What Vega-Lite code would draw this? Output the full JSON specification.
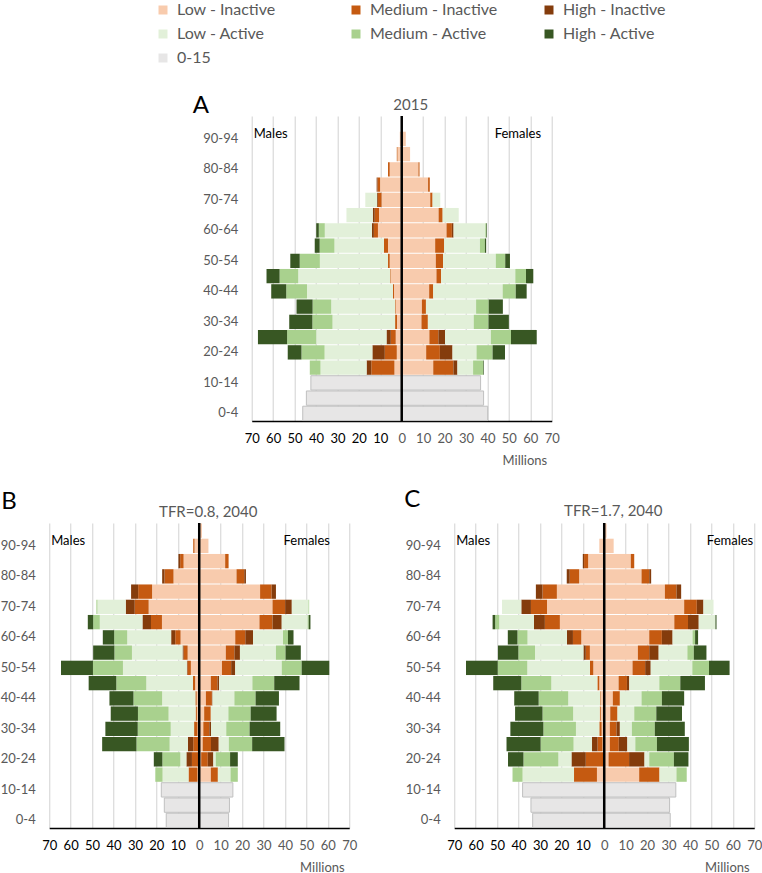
{
  "$schema": "https://vega.github.io/schema/vega-lite/v6.json",
  "padding": {"left": 0, "top": 2, "right": 5, "bottom": 5},
  "datasets": {
    "pop": [
      {"p":"A","a":"95-99","s":"M","LI":0.2},
      {"p":"A","a":"90-94","s":"M","LI":0.9},
      {"p":"A","a":"85-89","s":"M","LI":2.0,"MI":0.3},
      {"p":"A","a":"80-84","s":"M","LI":5.6,"MI":0.8},
      {"p":"A","a":"75-79","s":"M","LI":10.1,"MI":1.2,"HI":0.4},
      {"p":"A","a":"70-74","s":"M","LI":9.4,"MI":1.7,"HI":0.4,"LA":5.5},
      {"p":"A","a":"65-69","s":"M","LI":10.6,"MI":2.0,"HI":0.9,"LA":12.3},
      {"p":"A","a":"60-64","s":"M","LI":11.1,"MI":1.9,"HI":0.9,"LA":22.0,"MA":2.8,"HA":1.2},
      {"p":"A","a":"55-59","s":"M","LI":6.4,"MI":1.9,"LA":23.1,"MA":6.9,"HA":2.3},
      {"p":"A","a":"50-54","s":"M","LI":5.6,"MI":0.8,"LA":31.8,"MA":9.4,"HA":4.4},
      {"p":"A","a":"45-49","s":"M","LI":5.1,"MI":0.3,"LA":42.9,"MA":8.7,"HA":6.1},
      {"p":"A","a":"40-44","s":"M","LI":3.6,"MI":0.5,"LA":40.1,"MA":9.7,"HA":7.0},
      {"p":"A","a":"35-39","s":"M","LI":2.8,"MI":0.3,"LA":29.8,"MA":8.7,"HA":7.5},
      {"p":"A","a":"30-34","s":"M","LI":2.2,"MI":0.9,"LA":29.2,"MA":9.4,"HA":10.8},
      {"p":"A","a":"25-29","s":"M","LI":2.8,"MI":2.3,"HI":2.0,"LA":32.8,"MA":13.6,"HA":13.6},
      {"p":"A","a":"20-24","s":"M","LI":2.3,"MI":5.6,"HI":5.8,"LA":22.3,"MA":10.8,"HA":6.4},
      {"p":"A","a":"15-19","s":"M","LI":3.4,"MI":10.8,"HI":2.2,"LA":21.5,"MA":5.0},
      {"p":"A","a":"10-14","s":"M","K":42.4},
      {"p":"A","a":"5-9","s":"M","K":44.5},
      {"p":"A","a":"0-4","s":"M","K":46.2},
      {"p":"A","a":"95-99","s":"F","LI":0.3},
      {"p":"A","a":"90-94","s":"F","LI":1.9},
      {"p":"A","a":"85-89","s":"F","LI":3.9},
      {"p":"A","a":"80-84","s":"F","LI":7.8,"MI":0.5},
      {"p":"A","a":"75-79","s":"F","LI":12.3,"MI":0.8},
      {"p":"A","a":"70-74","s":"F","LI":13.3,"MI":1.1,"LA":3.6},
      {"p":"A","a":"65-69","s":"F","LI":17.2,"MI":1.9,"LA":7.5},
      {"p":"A","a":"60-64","s":"F","LI":20.9,"MI":2.5,"HI":0.8,"LA":14.8,"MA":0.5,"HA":0.3},
      {"p":"A","a":"55-59","s":"F","LI":15.6,"MI":4.2,"LA":16.7,"MA":2.3,"HA":0.6},
      {"p":"A","a":"50-54","s":"F","LI":15.9,"MI":3.4,"LA":24.6,"MA":4.4,"HA":2.2},
      {"p":"A","a":"45-49","s":"F","LI":16.2,"MI":2.2,"LA":34.6,"MA":5.0,"HA":3.4},
      {"p":"A","a":"40-44","s":"F","LI":12.8,"MI":1.9,"LA":32.4,"MA":6.1,"HA":5.1},
      {"p":"A","a":"35-39","s":"F","LI":9.4,"MI":1.9,"LA":23.4,"MA":5.9,"HA":6.6},
      {"p":"A","a":"30-34","s":"F","LI":9.2,"MI":3.0,"LA":21.4,"MA":6.9,"HA":9.5},
      {"p":"A","a":"25-29","s":"F","LI":12.9,"MI":4.2,"HI":3.1,"LA":21.4,"MA":9.4,"HA":12.0},
      {"p":"A","a":"20-24","s":"F","LI":11.4,"MI":6.4,"HI":5.9,"LA":11.2,"MA":7.5,"HA":5.8},
      {"p":"A","a":"15-19","s":"F","LI":14.7,"MI":9.4,"HI":1.9,"LA":7.3,"MA":4.7,"HA":0.3},
      {"p":"A","a":"10-14","s":"F","K":36.8},
      {"p":"A","a":"5-9","s":"F","K":38.2},
      {"p":"A","a":"0-4","s":"F","K":40.1},

      {"p":"B","a":"95-99","s":"M","LI":0.3},
      {"p":"B","a":"90-94","s":"M","LI":2.2,"MI":0.6},
      {"p":"B","a":"85-89","s":"M","LI":7.3,"MI":1.6,"HI":0.8},
      {"p":"B","a":"80-84","s":"M","LI":12.0,"MI":4.2,"HI":1.1},
      {"p":"B","a":"75-79","s":"M","LI":22.0,"MI":6.5,"HI":3.3},
      {"p":"B","a":"70-74","s":"M","LI":23.6,"MI":6.5,"HI":4.2,"LA":13.2,"MA":0.5},
      {"p":"B","a":"65-69","s":"M","LI":17.4,"MI":5.1,"HI":4.0,"LA":19.9,"MA":3.1,"HA":2.5},
      {"p":"B","a":"60-64","s":"M","LI":8.7,"MI":2.5,"HI":1.9,"LA":20.5,"MA":6.1,"HA":5.3},
      {"p":"B","a":"55-59","s":"M","LI":5.4,"MI":1.9,"HI":0.5,"LA":23.6,"MA":8.2,"HA":9.9},
      {"p":"B","a":"50-54","s":"M","LI":3.9,"MI":1.6,"HI":0.3,"LA":29.8,"MA":14.0,"HA":14.9},
      {"p":"B","a":"45-49","s":"M","LI":1.9,"MI":1.1,"LA":21.7,"MA":14.0,"HA":12.9},
      {"p":"B","a":"40-44","s":"M","LI":1.2,"MI":0.6,"LA":15.5,"MA":13.4,"HA":11.2},
      {"p":"B","a":"35-39","s":"M","LI":1.1,"MI":0.6,"LA":12.6,"MA":14.3,"HA":12.7},
      {"p":"B","a":"30-34","s":"M","LI":0.8,"MI":1.6,"LA":10.9,"MA":15.4,"HA":15.1},
      {"p":"B","a":"25-29","s":"M","LI":0.5,"MI":2.3,"HI":2.5,"LA":8.5,"MA":15.5,"HA":16.0},
      {"p":"B","a":"20-24","s":"M","LI":0.3,"MI":3.1,"HI":2.6,"LA":2.8,"MA":8.4,"HA":4.0},
      {"p":"B","a":"15-19","s":"M","LI":0.8,"MI":4.2,"LA":12.1,"MA":3.4},
      {"p":"B","a":"10-14","s":"M","K":17.7},
      {"p":"B","a":"5-9","s":"M","K":16.3},
      {"p":"B","a":"0-4","s":"M","K":15.4},
      {"p":"B","a":"95-99","s":"F","LI":1.3},
      {"p":"B","a":"90-94","s":"F","LI":4.3},
      {"p":"B","a":"85-89","s":"F","LI":12.1,"MI":1.6},
      {"p":"B","a":"80-84","s":"F","LI":17.4,"MI":3.6,"HI":0.8},
      {"p":"B","a":"75-79","s":"F","LI":28.4,"MI":5.4,"HI":2.0},
      {"p":"B","a":"70-74","s":"F","LI":34.2,"MI":5.9,"HI":3.1,"LA":7.8,"MA":0.3},
      {"p":"B","a":"65-69","s":"F","LI":28.1,"MI":6.1,"HI":4.3,"LA":12.1,"MA":0.5,"HA":0.8},
      {"p":"B","a":"60-64","s":"F","LI":16.8,"MI":4.7,"HI":3.6,"LA":14.0,"MA":2.3,"HA":2.6},
      {"p":"B","a":"55-59","s":"F","LI":12.4,"MI":4.0,"HI":2.6,"LA":16.8,"MA":4.5,"HA":7.1},
      {"p":"B","a":"50-54","s":"F","LI":10.6,"MI":4.3,"HI":1.9,"LA":21.7,"MA":9.3,"HA":12.9},
      {"p":"B","a":"45-49","s":"F","LI":5.4,"MI":3.1,"HI":0.8,"LA":15.5,"MA":10.2,"HA":11.8},
      {"p":"B","a":"40-44","s":"F","LI":3.1,"MI":2.8,"HI":0.3,"LA":10.2,"MA":9.9,"HA":10.9},
      {"p":"B","a":"35-39","s":"F","LI":2.3,"MI":3.1,"LA":8.2,"MA":10.4,"HA":12.1},
      {"p":"B","a":"30-34","s":"F","LI":1.9,"MI":2.8,"HI":0.8,"LA":7.1,"MA":10.9,"HA":14.3},
      {"p":"B","a":"25-29","s":"F","LI":1.6,"MI":3.9,"HI":3.6,"LA":4.7,"MA":10.9,"HA":15.1},
      {"p":"B","a":"20-24","s":"F","LI":0.9,"MI":3.1,"HI":2.6,"LA":1.1,"MA":6.7,"HA":3.6},
      {"p":"B","a":"15-19","s":"F","LI":5.4,"MI":3.3,"LA":5.9,"MA":3.4},
      {"p":"B","a":"10-14","s":"F","K":15.7},
      {"p":"B","a":"5-9","s":"F","K":14.1},
      {"p":"B","a":"0-4","s":"F","K":13.7},

      {"p":"C","a":"95-99","s":"M","LI":0.3},
      {"p":"C","a":"90-94","s":"M","LI":2.3},
      {"p":"C","a":"85-89","s":"M","LI":7.5,"MI":1.9,"HI":0.6},
      {"p":"C","a":"80-84","s":"M","LI":11.7,"MI":4.4,"HI":1.4},
      {"p":"C","a":"75-79","s":"M","LI":22.1,"MI":6.7,"HI":3.1},
      {"p":"C","a":"70-74","s":"M","LI":26.7,"MI":7.5,"HI":4.5,"LA":9.0},
      {"p":"C","a":"65-69","s":"M","LI":20.7,"MI":7.0,"HI":5.1,"LA":16.2,"MA":1.9,"HA":1.2},
      {"p":"C","a":"60-64","s":"M","LI":10.7,"MI":3.9,"HI":2.8,"LA":18.4,"MA":4.7,"HA":4.5},
      {"p":"C","a":"55-59","s":"M","LI":6.7,"MI":1.9,"HI":1.1,"LA":22.6,"MA":7.8,"HA":9.5},
      {"p":"C","a":"50-54","s":"M","LI":5.1,"MI":1.6,"LA":29.2,"MA":13.8,"HA":14.8},
      {"p":"C","a":"45-49","s":"M","LI":2.3,"MI":0.9,"LA":21.5,"MA":14.0,"HA":13.1},
      {"p":"C","a":"40-44","s":"M","LI":1.6,"MI":0.3,"LA":14.9,"MA":13.8,"HA":11.4},
      {"p":"C","a":"35-39","s":"M","LI":1.6,"MI":0.5,"LA":12.4,"MA":14.3,"HA":12.8},
      {"p":"C","a":"30-34","s":"M","LI":1.2,"MI":1.1,"LA":10.9,"MA":15.2,"HA":15.4},
      {"p":"C","a":"25-29","s":"M","LI":0.8,"MI":2.3,"HI":2.6,"LA":8.6,"MA":15.4,"HA":15.9},
      {"p":"C","a":"20-24","s":"M","LI":0.5,"MI":8.1,"HI":6.7,"LA":6.1,"MA":16.3,"HA":7.2},
      {"p":"C","a":"15-19","s":"M","LI":3.4,"MI":10.7,"LA":24.0,"MA":4.7},
      {"p":"C","a":"10-14","s":"M","K":38.1},
      {"p":"C","a":"5-9","s":"M","K":34.2},
      {"p":"C","a":"0-4","s":"M","K":33.4},
      {"p":"C","a":"95-99","s":"F","LI":1.1},
      {"p":"C","a":"90-94","s":"F","LI":4.4},
      {"p":"C","a":"85-89","s":"F","LI":12.4,"MI":1.6},
      {"p":"C","a":"80-84","s":"F","LI":17.4,"MI":3.6,"HI":0.9},
      {"p":"C","a":"75-79","s":"F","LI":28.3,"MI":5.4,"HI":2.2},
      {"p":"C","a":"70-74","s":"F","LI":37.3,"MI":5.9,"HI":3.1,"LA":4.7},
      {"p":"C","a":"65-69","s":"F","LI":32.7,"MI":6.4,"HI":5.0,"LA":7.8,"HA":0.5},
      {"p":"C","a":"60-64","s":"F","LI":21.0,"MI":5.9,"HI":5.0,"LA":9.3,"MA":1.2,"HA":1.4},
      {"p":"C","a":"55-59","s":"F","LI":15.7,"MI":5.3,"HI":4.4,"LA":13.4,"MA":3.0,"HA":5.9},
      {"p":"C","a":"50-54","s":"F","LI":13.2,"MI":5.9,"HI":2.6,"LA":19.4,"MA":7.8,"HA":9.6},
      {"p":"C","a":"45-49","s":"F","LI":6.7,"MI":3.9,"HI":1.1,"LA":14.0,"MA":9.8,"HA":11.5},
      {"p":"C","a":"40-44","s":"F","LI":4.0,"MI":3.3,"LA":10.1,"MA":9.5,"HA":10.4},
      {"p":"C","a":"35-39","s":"F","LI":2.8,"MI":3.4,"LA":7.8,"MA":10.3,"HA":12.0},
      {"p":"C","a":"30-34","s":"F","LI":2.6,"MI":3.1,"HI":1.6,"LA":5.6,"MA":10.7,"HA":14.0},
      {"p":"C","a":"25-29","s":"F","LI":2.6,"MI":4.2,"HI":4.0,"LA":3.7,"MA":10.1,"HA":14.9},
      {"p":"C","a":"20-24","s":"F","LI":2.0,"MI":9.6,"HI":7.2,"LA":2.2,"MA":11.5,"HA":6.8},
      {"p":"C","a":"15-19","s":"F","LI":16.3,"MI":9.5,"LA":7.9,"MA":4.8},
      {"p":"C","a":"10-14","s":"F","K":33.4},
      {"p":"C","a":"5-9","s":"F","K":30.5},
      {"p":"C","a":"0-4","s":"F","K":30.8}
    ]
  },
  "spacing": 21,
  "center": true,
  "vconcat": [
    {
      "width": 300,
      "height": 305,
      "layer": [
        {
          "data": {"name": "pop"},
          "transform": [
            {"filter": "datum.p == 'A'"},
            {"fold": ["LI","MI","HI","LA","MA","HA","K"], "as": ["c","v"]},
            {"filter": "datum.v > 0"},
            {"calculate": "datum.s == 'M' ? -datum.v : datum.v", "as": "x"},
            {"calculate": "indexof(['LI','MI','HI','LA','MA','HA','K'], datum.c)", "as": "o"}
          ],
          "mark": {"type": "bar", "stroke": "#C0C0C0"},
          "encoding": {
            "y": {"field": "a", "type": "ordinal",
              "scale": {"domain": ["95-99","90-94","85-89","80-84","75-79","70-74","65-69","60-64","55-59","50-54","45-49","40-44","35-39","30-34","25-29","20-24","15-19","10-14","5-9","0-4"], "paddingInner": 0.06, "paddingOuter": 0.03},
              "axis": {"values": ["90-94","80-84","70-74","60-64","50-54","40-44","30-34","20-24","10-14","0-4"], "title": null}},
            "x": {"field": "x", "type": "quantitative", "stack": "zero", "scale": {"domain": [-70, 70]},
              "axis": {"values": [-70,-60,-50,-40,-30,-20,-10,0,10,20,30,40,50,60,70], "tickCount": 15, "labelOverlap": false, "title": "Millions", "titleX": 295, "titleY": 39}},
            "color": {"field": "c", "type": "nominal",
              "scale": {"domain": ["LI","MI","HI","LA","MA","HA","K"], "range": ["#F8CBAD","#C55A11","#843C0C","#E2F0D9","#A9D18E","#385723","#E7E6E6"]},
              "legend": {"orient": "none", "legendX": 106, "legendY": -114, "direction": "horizontal", "columns": 3, "title": null,
                "labelExpr": "['Low - Inactive','Medium - Inactive','High - Inactive','Low - Active','Medium - Active','High - Active','0-15'][indexof(['LI','MI','HI','LA','MA','HA','K'], datum.label)]"}},
            "order": {"field": "o", "type": "quantitative"},
            "strokeWidth": {"condition": {"test": "datum.c == 'K'", "value": 1}, "value": 0}
          }
        },
        {
          "data": {"values": [{"z": 0}]},
          "mark": {"type": "rule", "color": "black", "strokeWidth": 2.5},
          "encoding": {"x": {"field": "z", "type": "quantitative"}}
        },
        {
          "data": {"values": [{"t": "Males", "x": -70, "a": "90-94"}]},
          "mark": {"type": "text", "align": "left", "dx": 2, "dy": -5, "fontSize": 13, "color": "black"},
          "encoding": {"x": {"field": "x", "type": "quantitative"}, "y": {"field": "a", "type": "ordinal"}, "text": {"field": "t"}}
        },
        {
          "data": {"values": [{"t": "Females", "x": 65, "a": "90-94"}]},
          "mark": {"type": "text", "align": "right", "dy": -5, "fontSize": 13, "color": "black"},
          "encoding": {"x": {"field": "x", "type": "quantitative"}, "y": {"field": "a", "type": "ordinal"}, "text": {"field": "t"}}
        },
        {
          "data": {"values": [{"t": "A", "x": -70, "a": "95-99"}]},
          "mark": {"type": "text", "align": "left", "baseline": "alphabetic", "dx": -59, "dy": -10.6, "fontSize": 24, "color": "black"},
          "encoding": {"x": {"field": "x", "type": "quantitative"}, "y": {"field": "a", "type": "ordinal"}, "text": {"field": "t"}}
        },
        {
          "data": {"values": [{"t": "2015", "x": 0, "a": "95-99"}]},
          "mark": {"type": "text", "align": "center", "baseline": "alphabetic", "dx": 9, "dy": -13.6, "fontSize": 15, "color": "#595959"},
          "encoding": {"x": {"field": "x", "type": "quantitative"}, "y": {"field": "a", "type": "ordinal"}, "text": {"field": "t"}}
        }
      ]
    },
    {
      "spacing": 47,
      "hconcat": [
        {
          "width": 300,
          "height": 305,
          "layer": [
            {
              "data": {"name": "pop"},
              "transform": [
                {"filter": "datum.p == 'B'"},
                {"fold": ["LI","MI","HI","LA","MA","HA","K"], "as": ["c","v"]},
                {"filter": "datum.v > 0"},
                {"calculate": "datum.s == 'M' ? -datum.v : datum.v", "as": "x"},
                {"calculate": "indexof(['LI','MI','HI','LA','MA','HA','K'], datum.c)", "as": "o"}
              ],
              "mark": {"type": "bar", "stroke": "#C0C0C0"},
              "encoding": {
                "y": {"field": "a", "type": "ordinal",
                  "scale": {"domain": ["95-99","90-94","85-89","80-84","75-79","70-74","65-69","60-64","55-59","50-54","45-49","40-44","35-39","30-34","25-29","20-24","15-19","10-14","5-9","0-4"], "paddingInner": 0.06, "paddingOuter": 0.03},
                  "axis": {"values": ["90-94","80-84","70-74","60-64","50-54","40-44","30-34","20-24","10-14","0-4"], "title": null}},
                "x": {"field": "x", "type": "quantitative", "stack": "zero", "scale": {"domain": [-70, 70]},
                  "axis": {"values": [-70,-60,-50,-40,-30,-20,-10,0,10,20,30,40,50,60,70], "tickCount": 15, "labelOverlap": false, "title": "Millions", "titleX": 295, "titleY": 39}},
                "color": {"field": "c", "type": "nominal",
                  "scale": {"domain": ["LI","MI","HI","LA","MA","HA","K"], "range": ["#F8CBAD","#C55A11","#843C0C","#E2F0D9","#A9D18E","#385723","#E7E6E6"]}},
                "order": {"field": "o", "type": "quantitative"},
                "strokeWidth": {"condition": {"test": "datum.c == 'K'", "value": 1}, "value": 0}
              }
            },
            {
              "data": {"values": [{"z": 0}]},
              "mark": {"type": "rule", "color": "black", "strokeWidth": 2.5},
              "encoding": {"x": {"field": "z", "type": "quantitative"}}
            },
            {
              "data": {"values": [{"t": "Males", "x": -70, "a": "90-94"}]},
              "mark": {"type": "text", "align": "left", "dx": 2, "dy": -5, "fontSize": 13, "color": "black"},
              "encoding": {"x": {"field": "x", "type": "quantitative"}, "y": {"field": "a", "type": "ordinal"}, "text": {"field": "t"}}
            },
            {
              "data": {"values": [{"t": "Females", "x": 61, "a": "90-94"}]},
              "mark": {"type": "text", "align": "right", "dy": -5, "fontSize": 13, "color": "black"},
              "encoding": {"x": {"field": "x", "type": "quantitative"}, "y": {"field": "a", "type": "ordinal"}, "text": {"field": "t"}}
            },
            {
              "data": {"values": [{"t": "B", "x": -70, "a": "95-99"}]},
              "mark": {"type": "text", "align": "left", "baseline": "alphabetic", "dx": -48, "dy": -22, "fontSize": 24, "color": "black"},
              "encoding": {"x": {"field": "x", "type": "quantitative"}, "y": {"field": "a", "type": "ordinal"}, "text": {"field": "t"}}
            },
            {
              "data": {"values": [{"t": "TFR=0.8, 2040", "x": 0, "a": "95-99"}]},
              "mark": {"type": "text", "align": "center", "baseline": "alphabetic", "dx": 9, "dy": -13.6, "fontSize": 15, "color": "#595959"},
              "encoding": {"x": {"field": "x", "type": "quantitative"}, "y": {"field": "a", "type": "ordinal"}, "text": {"field": "t"}}
            }
          ]
        },
        {
          "width": 300,
          "height": 305,
          "layer": [
            {
              "data": {"name": "pop"},
              "transform": [
                {"filter": "datum.p == 'C'"},
                {"fold": ["LI","MI","HI","LA","MA","HA","K"], "as": ["c","v"]},
                {"filter": "datum.v > 0"},
                {"calculate": "datum.s == 'M' ? -datum.v : datum.v", "as": "x"},
                {"calculate": "indexof(['LI','MI','HI','LA','MA','HA','K'], datum.c)", "as": "o"}
              ],
              "mark": {"type": "bar", "stroke": "#C0C0C0"},
              "encoding": {
                "y": {"field": "a", "type": "ordinal",
                  "scale": {"domain": ["95-99","90-94","85-89","80-84","75-79","70-74","65-69","60-64","55-59","50-54","45-49","40-44","35-39","30-34","25-29","20-24","15-19","10-14","5-9","0-4"], "paddingInner": 0.06, "paddingOuter": 0.03},
                  "axis": {"values": ["90-94","80-84","70-74","60-64","50-54","40-44","30-34","20-24","10-14","0-4"], "title": null}},
                "x": {"field": "x", "type": "quantitative", "stack": "zero", "scale": {"domain": [-70, 70]},
                  "axis": {"values": [-70,-60,-50,-40,-30,-20,-10,0,10,20,30,40,50,60,70], "tickCount": 15, "labelOverlap": false, "title": "Millions", "titleX": 295, "titleY": 39}},
                "color": {"field": "c", "type": "nominal",
                  "scale": {"domain": ["LI","MI","HI","LA","MA","HA","K"], "range": ["#F8CBAD","#C55A11","#843C0C","#E2F0D9","#A9D18E","#385723","#E7E6E6"]}},
                "order": {"field": "o", "type": "quantitative"},
                "strokeWidth": {"condition": {"test": "datum.c == 'K'", "value": 1}, "value": 0}
              }
            },
            {
              "data": {"values": [{"z": 0}]},
              "mark": {"type": "rule", "color": "black", "strokeWidth": 2.5},
              "encoding": {"x": {"field": "z", "type": "quantitative"}}
            },
            {
              "data": {"values": [{"t": "Males", "x": -70, "a": "90-94"}]},
              "mark": {"type": "text", "align": "left", "dx": 2, "dy": -5, "fontSize": 13, "color": "black"},
              "encoding": {"x": {"field": "x", "type": "quantitative"}, "y": {"field": "a", "type": "ordinal"}, "text": {"field": "t"}}
            },
            {
              "data": {"values": [{"t": "Females", "x": 70, "a": "90-94"}]},
              "mark": {"type": "text", "align": "right", "dx": -1, "dy": -5, "fontSize": 13, "color": "black"},
              "encoding": {"x": {"field": "x", "type": "quantitative"}, "y": {"field": "a", "type": "ordinal"}, "text": {"field": "t"}}
            },
            {
              "data": {"values": [{"t": "C", "x": -70, "a": "95-99"}]},
              "mark": {"type": "text", "align": "left", "baseline": "alphabetic", "dx": -50, "dy": -23.6, "fontSize": 24, "color": "black"},
              "encoding": {"x": {"field": "x", "type": "quantitative"}, "y": {"field": "a", "type": "ordinal"}, "text": {"field": "t"}}
            },
            {
              "data": {"values": [{"t": "TFR=1.7, 2040", "x": 0, "a": "95-99"}]},
              "mark": {"type": "text", "align": "center", "baseline": "alphabetic", "dx": 9, "dy": -14.6, "fontSize": 15, "color": "#595959"},
              "encoding": {"x": {"field": "x", "type": "quantitative"}, "y": {"field": "a", "type": "ordinal"}, "text": {"field": "t"}}
            }
          ]
        }
      ]
    }
  ],
  "config": {
    "font": "Lato",
    "view": {"stroke": null},
    "axisX": {
      "labelExpr": "abs(datum.value)",
      "grid": true, "gridColor": "#D9D9D9", "gridWidth": 1.2,
      "ticks": false, "domainColor": "#000000", "domainWidth": 1.5,
      "labelFontSize": 13, "labelPadding": 11, "labelFlush": false, "labelOverlap": false,
      "labelColor": {"condition": {"test": "datum.value < 0", "value": "#000000"}, "value": "#595959"},
      "titleFontSize": 13, "titleFontWeight": "normal", "titleColor": "#595959",
      "titleAlign": "right", "titleBaseline": "middle"
    },
    "axisY": {
      "domain": false, "ticks": false, "grid": false,
      "labelFontSize": 13, "labelColor": "#595959", "labelPadding": 14
    },
    "legend": {
      "symbolType": "square", "symbolSize": 81, "symbolStrokeWidth": 0,
      "labelFontSize": 16, "labelColor": "#595959", "labelOffset": 6,
      "columnPadding": 43, "rowPadding": 8, "gridAlign": "all", "labelLimit": 250, "padding": 0
    }
  }
}
